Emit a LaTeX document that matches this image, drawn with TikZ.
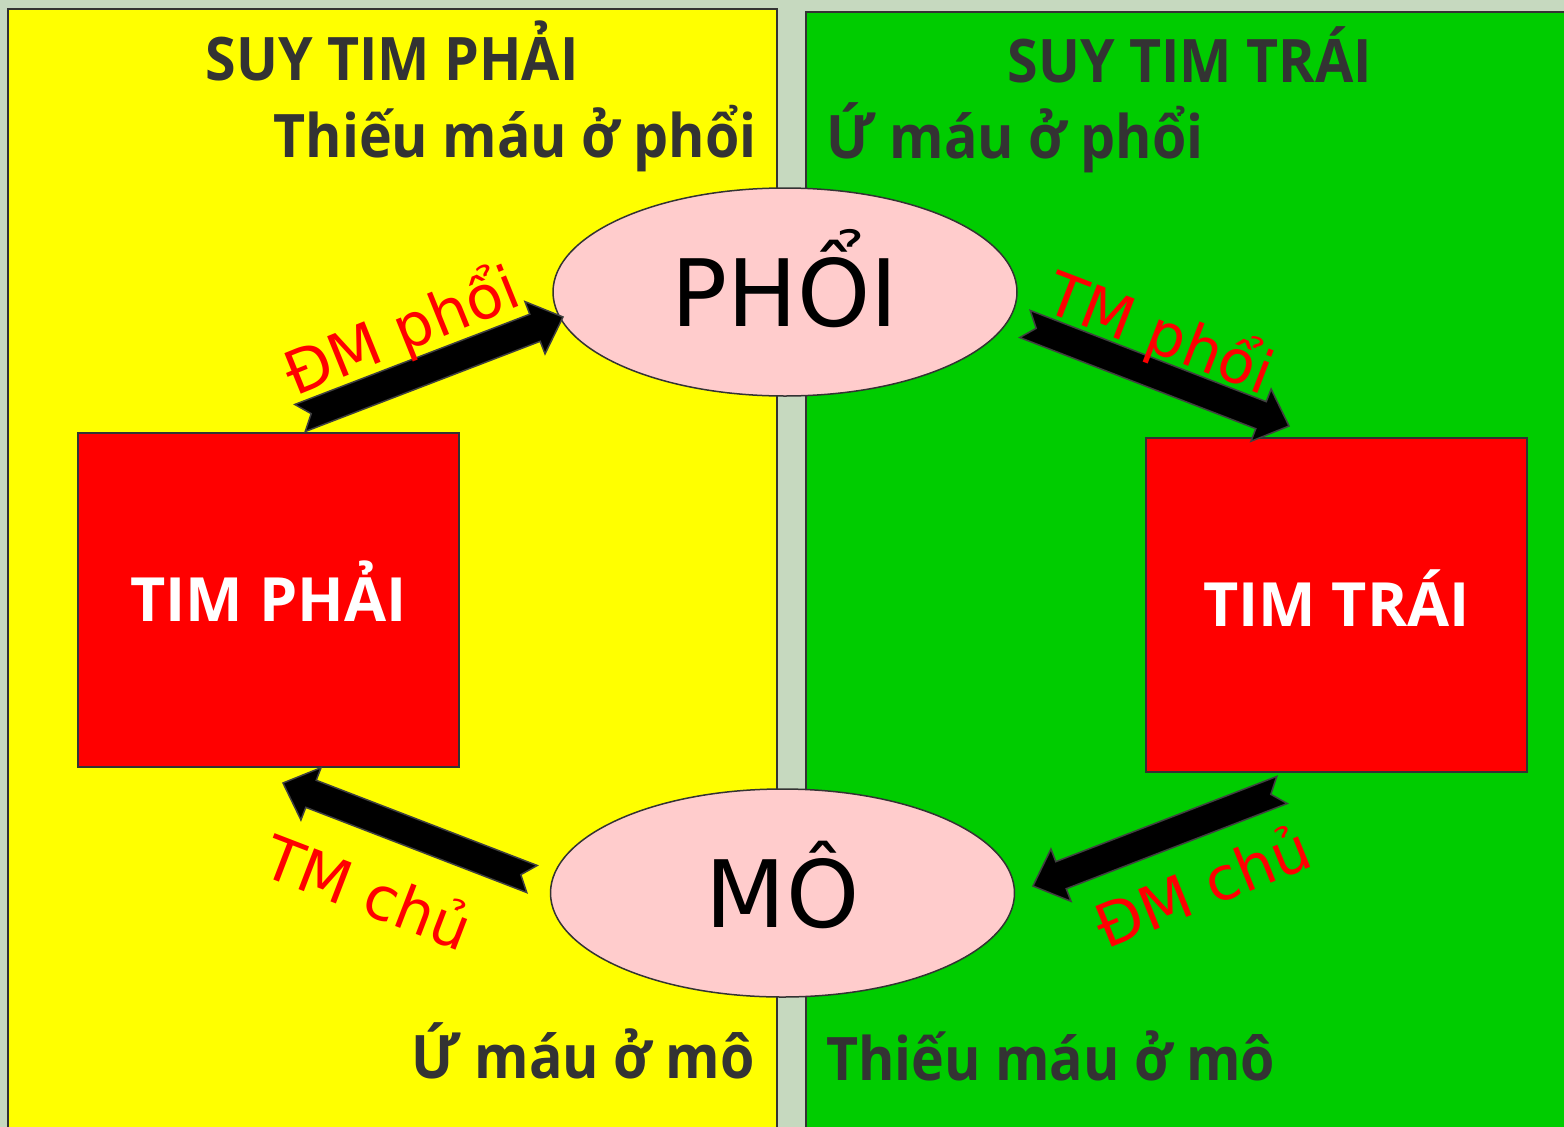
\documentclass[tikz,border=0pt]{standalone}
\usepackage{fontspec}
\setmainfont{Open Sans}
\newfontfamily\titlefont{Open Sans}[FakeStretch=0.925]
\newfontfamily\labelfont{DejaVu Sans}
\usepackage{tikz}
\usetikzlibrary{calc,shapes.geometric}
\definecolor{backdrop}{HTML}{C6D9BF}
\definecolor{edge}{HTML}{333333}
\definecolor{panelyellow}{HTML}{FFFF00}
\definecolor{panelgreen}{HTML}{00CC00}
\definecolor{organpink}{HTML}{FFCCCC}
\tikzset{
  panel/.style={draw=edge, line width=2pt},
  title/.style={inner sep=0pt, text=edge, font=\titlefont\fontsize{60}{64}\selectfont\bfseries},
  heart/.style={draw=edge, line width=1.5pt, fill=red, inner sep=0pt, minimum width=381pt, minimum height=334pt, text=white, text height=43pt, text depth=0pt, font=\fontsize{61}{64}\selectfont\bfseries},
  organ/.style={ellipse, draw=edge, line width=1.5pt, fill=organpink, inner sep=0pt, minimum width=464pt, minimum height=208pt, text height=68pt, text depth=0pt, font=\labelfont\fontsize{93}{98}\selectfont},
  vessel/.style={inner sep=0pt, text=red, font=\labelfont\fontsize{60}{64}\selectfont},
  flow/.style={fill=black, draw=black!75, line width=1.5pt, line join=miter}
}
\def\bloodarrow(#1)(#2){%
  \coordinate (#2-neck) at ($(#2)!30pt!(#1)$);
  \filldraw[flow] ($(#1)!14.5pt!90:(#2)$) -- ($(#2-neck)!14.5pt!90:(#2)$) -- ($(#2-neck)!28pt!90:(#2)$) -- (#2)
    -- ($(#2-neck)!28pt!-90:(#2)$) -- ($(#2-neck)!14.5pt!-90:(#2)$) -- ($(#1)!14.5pt!-90:(#2)$) -- ($(#1)!12pt!(#2)$) -- cycle;}

\begin{document}
\begin{tikzpicture}[x=1pt, y=-1pt]
	%%%%% START %%%%%
	
	\fill[backdrop] (0, 0) rectangle (1564, 1127);
	\clip (0, 0) rectangle (1564, 1127);
	
	\filldraw[panel, fill=panelyellow] (8, 9) rectangle (777, 1140);
	\filldraw[panel, fill=panelgreen] (806, 12) rectangle (1580, 1140);
	
	\node[title, anchor=base] (suyphai) at (392, 80) {SUY TIM PHẢI};
	\node[title, anchor=base east] (thieuphoi) at (757, 157) {Thiếu máu ở phổi};
	\node[title, anchor=base] (suytrai) at (1190, 82) {SUY TIM TRÁI};
	\node[title, anchor=base west] (uphoi) at (826, 158) {Ứ máu ở phổi};
	\node[title, anchor=base east] (umo) at (755, 1078) {Ứ máu ở mô};
	\node[title, anchor=base west] (thieumo) at (826, 1080) {Thiếu máu ở mô};
	
	\node[organ] (phoi) at (785, 292) {PHỔI};
	\node[organ] (mo) at (782.5, 893) {MÔ};
	\node[heart] (timphai) at (268.5, 600) {TIM PHẢI};
	\node[heart] (timtrai) at (1336.5, 605) {TIM TRÁI};
	
	\coordinate (dmphoi-tail) at (300, 418);
	\coordinate (dmphoi-tip) at (563, 317);
	\coordinate (tmphoi-tail) at (1025, 324);
	\coordinate (tmphoi-tip) at (1289, 426);
	\coordinate (tmchu-tail) at (532, 879);
	\coordinate (tmchu-tip) at (283, 783);
	\coordinate (dmchu-tail) at (1282, 790);
	\coordinate (dmchu-tip) at (1033, 886);
	
	\bloodarrow(dmphoi-tail)(dmphoi-tip)
	\bloodarrow(tmphoi-tail)(tmphoi-tip)
	\bloodarrow(tmchu-tail)(tmchu-tip)
	\bloodarrow(dmchu-tail)(dmchu-tip)
	
	\node[vessel, anchor=base west, rotate=22] (dmphoilabel) at (295, 397) {ĐM phổi};
	\node[vessel, anchor=base west, rotate=-21] (tmphoilabel) at (1042, 310) {TM phổi};
	\node[vessel, anchor=base west, rotate=-21] (tmchulabel) at (259, 874) {TM chủ};
	\node[vessel, anchor=base west, rotate=22] (dmchulabel) at (1106, 950) {ĐM chủ};
	
	%%%%% END %%%%%
\end{tikzpicture}
\end{document}
